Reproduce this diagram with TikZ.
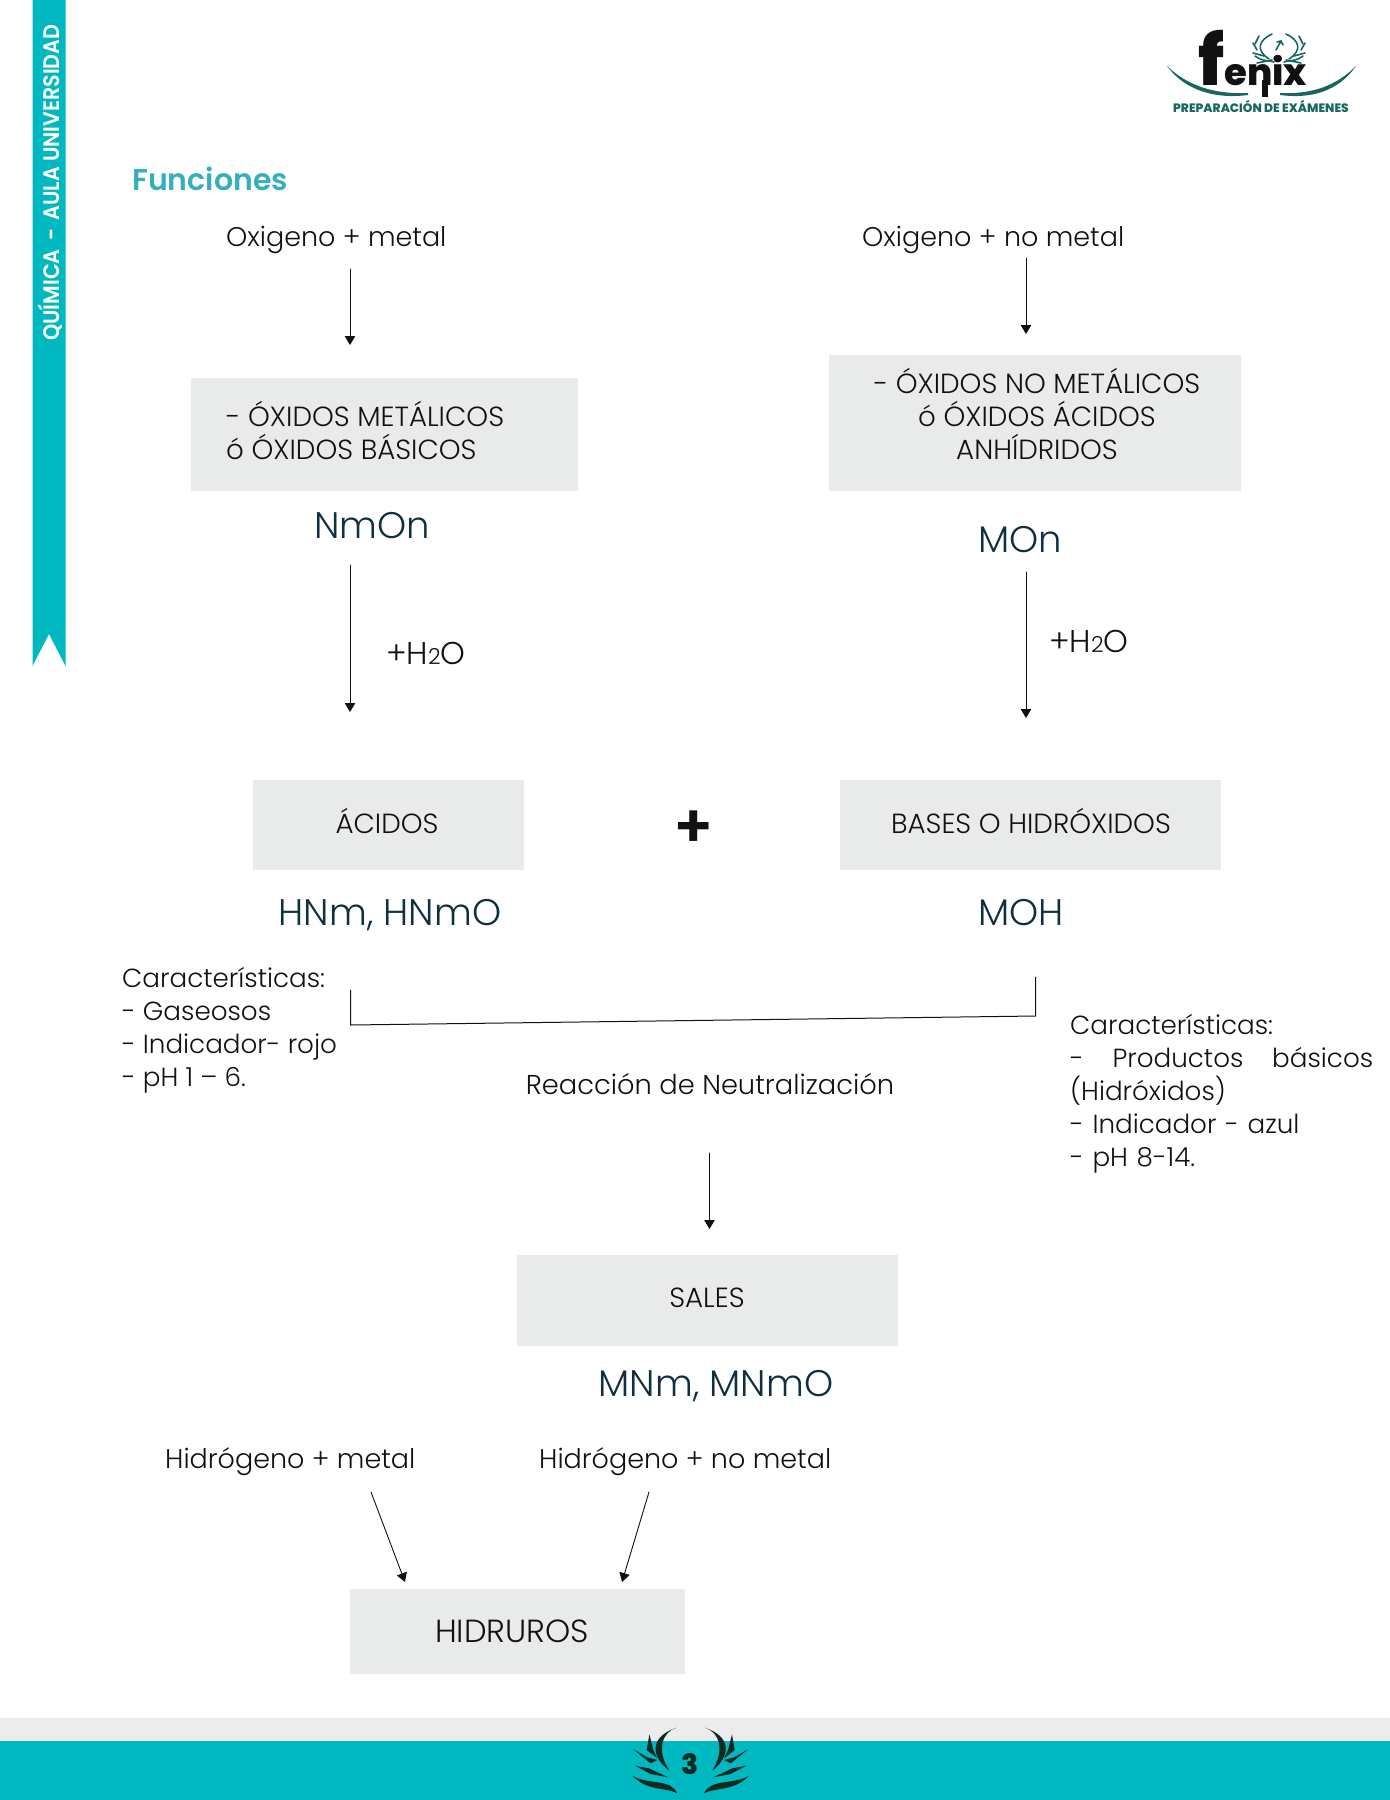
\documentclass[tikz,border=0pt]{standalone}
\usepackage{fontspec}
\setmainfont{Poppins Light}
\newfontfamily\boldfont{Poppins SemiBold}
\newfontfamily\heavyfont{Poppins ExtraBold}
\usepackage{xcolor}
\usetikzlibrary{arrows.meta,positioning,calc}
\definecolor{teal}{HTML}{00B8C0}
\definecolor{title}{HTML}{35AEBD}
\definecolor{boxgray}{HTML}{E9EBEA}
\definecolor{band}{HTML}{ECECEC}
\definecolor{ink}{HTML}{111111}
\definecolor{formula}{HTML}{0F2F42}
\definecolor{logogreen}{HTML}{17675F}
\definecolor{wing}{HTML}{14291F}
\tikzset{
  label/.style={text=ink,font=\fontsize{27}{33}\selectfont,inner sep=0pt,anchor=west,align=left},
  boxlabel/.style={fill=boxgray,text=ink,font=\fontsize{27.7}{33}\selectfont,inner sep=0pt,align=center},
  captext/.style={text=ink,font=\fontsize{27.7}{33}\selectfont,inner sep=0pt,align=left},
  formulalabel/.style={text=formula,font=\fontsize{37}{42}\selectfont,inner sep=0pt},
  waterlabel/.style={text=ink,font=\fontsize{31.5}{36}\selectfont,inner sep=0pt,anchor=west},
  arrowline/.style={ink,line width=.9pt,-{Triangle[length=9pt,width=10.5pt]}},
  leafline/.style={logogreen,line width=1.6pt,line cap=round}
}
\begin{document}
\begin{tikzpicture}[x=1pt,y=-1pt,line cap=round,line join=round]
  \useasboundingbox (0,0) rectangle (1390,1800);
  % ribbon
  \fill[teal] (32.5,0) -- (65.5,0) -- (65.5,666) -- (49,634) -- (32.5,666) -- cycle;
  \node[rotate=90,xscale=.92,text=white,font=\boldfont\fontsize{22.5}{26}\selectfont,inner sep=0pt,anchor=west] (ribbon) at (50,341) {QUÍMICA \,-\, AULA UNIVERSIDAD};
  % logo
  \node[text=ink,font=\heavyfont\fontsize{70}{70}\selectfont,inner sep=0pt,anchor=base] (fenixf) at (1212,85) {f};
  \node[text=ink,font=\heavyfont\fontsize{37}{37}\selectfont,inner sep=0pt,anchor=base west] (fenixrest) at (1224,85) {enix};
  \fill[ink] (1262,80) rectangle (1268,97);
  \node[text=logogreen,font=\heavyfont\fontsize{12.2}{14}\selectfont,inner sep=0pt] (prep) at (1261,106) {PREPARACIÓN DE EXÁMENES};
  \fill[logogreen] (1167,66) .. controls (1192,90) and (1222,94) .. (1248,93) -- (1248,95) .. controls (1218,99) and (1186,92) .. (1167,66);
  \fill[logogreen] (1356,66) .. controls (1332,90) and (1305,94) .. (1280,93) -- (1280,95) .. controls (1310,99) and (1338,92) .. (1356,66);
  \foreach \side in {1,-1}{
    \begin{scope}[xshift=1279pt,xscale=\side]
      \draw[leafline] (-7,34) .. controls (-20,40) and (-24,50) .. (-10,59);
      \draw[leafline] (-20,36) -- (-24,44);
      \draw[leafline] (-26,43) -- (-22,50);
      \draw[leafline] (-26,53) -- (-15,56);
      \draw[leafline] (-24,56) .. controls (-16,62) and (-10,60) .. (-5,62);
      \draw[leafline] (-22,63) -- (-7,60);
    \end{scope}
  }
  \draw[leafline] (1276,50) -- (1281,41) -- (1277,42);
  \draw[leafline] (1281,41) -- (1283,45);
  % title
  \node[text=title,font=\boldfont\fontsize{30}{34}\selectfont,inner sep=0pt,anchor=west] (funciones) at (132,179) {Funciones};
  % top row
  \node[label] (oxmetal) at (226,240) {Oxigeno + metal};
  \node[label] (oxnometal) at (862,240) {Oxigeno + no metal};
  \node[boxlabel,minimum width=387pt,minimum height=113pt] (oxbasic) at (384,434.5) {};
  \node[captext,anchor=west] (oxbasictext) at (226,430) {- ÓXIDOS METÁLICOS\\ó ÓXIDOS BÁSICOS};
  \node[boxlabel,minimum width=412pt,minimum height=136pt] (oxacid) at (1035,423) {};
  \node[captext,align=center] (oxacidtext) at (1037,414) {- ÓXIDOS NO METÁLICOS\\ó ÓXIDOS ÁCIDOS\\ANHÍDRIDOS};
  \node[formulalabel] (nmon) at (372.5,526) {NmOn};
  \node[formulalabel] (mon) at (1020,540) {MOn};
  \coordinate (a1) at (350,269);
  \coordinate (a2) at (350,345);
  \coordinate (b1) at (1026,258);
  \coordinate (b2) at (1026,334);
  \draw[arrowline] (a1) -- (a2);
  \draw[arrowline] (b1) -- (b2);
  % water
  \coordinate (c1) at (350,565);
  \coordinate (c2) at (350,712);
  \coordinate (d1) at (1026,572);
  \coordinate (d2) at (1026,718);
  \draw[arrowline] (c1) -- (c2);
  \draw[arrowline] (d1) -- (d2);
  \node[waterlabel] (wateracid) at (386,653) {+H{\fontsize{22}{24}\selectfont 2}O};
  \node[waterlabel] (waterbase) at (1049,641) {+H{\fontsize{22}{24}\selectfont 2}O};
  % acids and bases
  \node[boxlabel,minimum width=271pt,minimum height=90pt] (acidos) at (388,825) {};
  \node[captext] (acidostext) at (387,821) {ÁCIDOS};
  \node[boxlabel,minimum width=381pt,minimum height=90pt] (bases) at (1030.5,825) {};
  \node[captext] (basestext) at (1031,821) {BASES O HIDRÓXIDOS};
  \node[text=ink,font=\boldfont\fontsize{60}{60}\selectfont,inner sep=0pt] (plus) at (694,829) {+};
  \node[formulalabel] (hnm) at (390,915) {HNm, HNmO};
  \node[formulalabel] (moh) at (1021,913) {MOH};
  \node[label,font=\fontsize{26.2}{33}\selectfont] (characid) at (122,1030) {Características:\\- Gaseosos\\- Indicador- rojo\\- pH 1 – 6.};
  \node[label,font=\fontsize{26.2}{33}\selectfont,text width=303pt,anchor=north west] (charbase) at (1070,1014) {Características:\\-\hfill Productos\hfill básicos\\(Hidróxidos)\\- Indicador - azul\\- pH 8-14.};
  % neutralization
  \coordinate (e1) at (350.5,990);
  \coordinate (e2) at (350.5,1025);
  \coordinate (e3) at (1035.5,1016);
  \coordinate (e4) at (1035.5,977);
  \draw[ink,line width=1pt] (e1) -- (e2) -- (e3) -- (e4);
  \node[label,anchor=center,font=\fontsize{27.3}{33}\selectfont] (neutral) at (710,1084) {Reacción de Neutralización};
  \coordinate (f1) at (709.5,1153);
  \coordinate (f2) at (709.5,1229);
  \draw[arrowline] (f1) -- (f2);
  \node[boxlabel,minimum width=381pt,minimum height=91pt] (sales) at (707,1300) {};
  \node[captext] (salestext) at (707,1298) {SALES};
  \node[formulalabel] (mnm) at (716,1386) {MNm, MNmO};
  % hydrides
  \node[label] (hmetal) at (165,1462) {Hidrógeno + metal};
  \node[label] (hnometal) at (539,1462) {Hidrógeno + no metal};
  \node[boxlabel,minimum width=335pt,minimum height=85pt] (hidruros) at (517.5,1631) {};
  \node[captext,font=\fontsize{32}{36}\selectfont] (hidrurostext) at (512,1631) {HIDRUROS};
  \coordinate (g1) at (371,1492);
  \coordinate (g2) at (405,1582);
  \coordinate (h1) at (649,1492);
  \coordinate (h2) at (622,1582);
  \draw[arrowline] (g1) -- (g2);
  \draw[arrowline] (h1) -- (h2);
  % footer
  \fill[band] (0,1718) rectangle (1390,1741);
  \fill[teal] (0,1741) rectangle (1390,1800);
  \foreach \side in {1,-1}{
    \begin{scope}[shift={(690.7,1700)},x=.3333pt,y=-.3333pt,xscale=\side]
      \fill[wing] (-42,83) .. controls (-85,95) and (-105,150) .. (-64,212) .. controls (-120,170) and (-125,110) .. (-42,83);
      \fill[wing] (-124,103) -- (-112,150) -- (-100,175) -- (-132,150) -- cycle;
      \fill[wing] (-172,148) -- (-130,172) -- (-100,180) -- (-120,190) -- cycle;
      \fill[wing] (-167,197) -- (-125,205) -- (-67,232) -- (-120,222) -- cycle;
      \fill[wing] (-175,227) .. controls (-130,255) and (-60,235) .. (-40,280) .. controls (-70,262) and (-130,275) .. (-175,227);
    \end{scope}
  }
  \node[text=wing,font=\heavyfont\fontsize{28}{28}\selectfont,inner sep=0pt] (pagenum) at (690.5,1764) {3};
\end{tikzpicture}
\end{document}
